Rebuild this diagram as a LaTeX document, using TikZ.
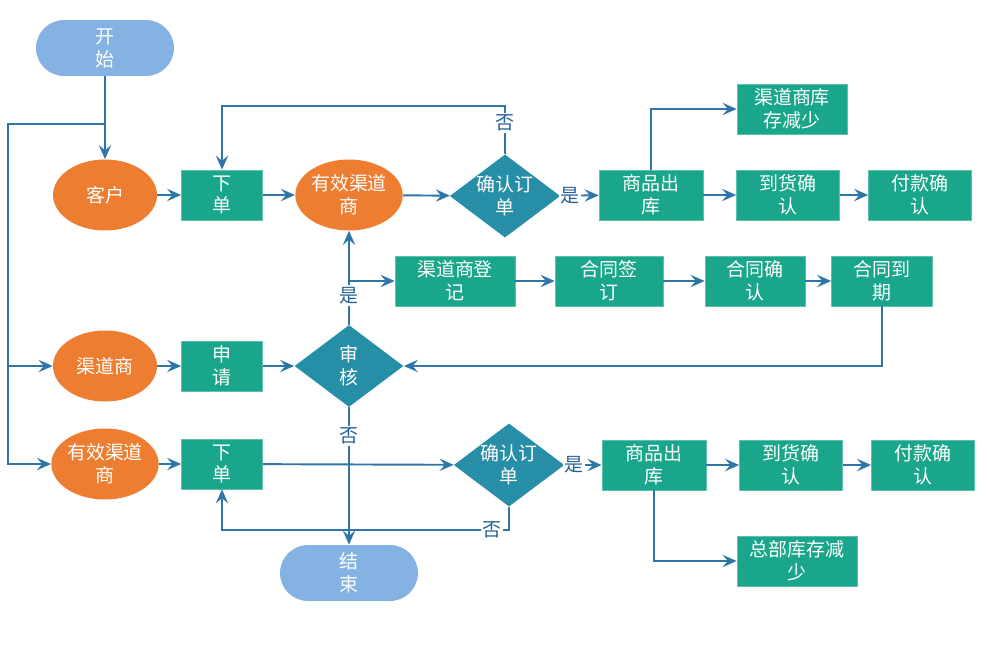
\documentclass[tikz,border=0pt]{standalone}
\usepackage{fontspec}
\setmainfont{Noto Sans CJK SC}
\usetikzlibrary{positioning, arrows.meta, calc, shapes.geometric}
\definecolor{flowline}{RGB}{46,117,168}
\definecolor{lbltext}{RGB}{36,95,150}
\definecolor{boxgreen}{RGB}{26,166,138}
\definecolor{roleorange}{RGB}{237,125,49}
\definecolor{checkteal}{RGB}{39,142,168}
\definecolor{termblue}{RGB}{132,178,226}

\begin{document}
\begin{tikzpicture}[
  x=0.02cm, y=-0.02cm,
  font=\fontsize{10.8}{13}\selectfont,
  stepbox/.style={draw=boxgreen!70!white, fill=boxgreen, text=white, minimum height=1cm,
                  align=center, inner sep=1pt},
  role/.style={ellipse, fill=roleorange, text=white, minimum width=2.08cm, minimum height=1.42cm,
               align=center, inner sep=0pt},
  check/.style={diamond, fill=checkteal, text=white, aspect=1.33, minimum width=2.18cm,
                minimum height=1.64cm, align=center, inner sep=0pt},
  term/.style={rectangle, rounded corners=0.56cm, fill=termblue, text=white, minimum width=2.76cm,
               minimum height=1.12cm, align=center},
  flow/.style={-{Stealth[length=8pt, width=7pt, inset=3pt]}, line width=1.1pt, flowline},
  lbl/.style={fill=white, text=lbltext, inner sep=1pt}
]
  \useasboundingbox (0,0) rectangle (987,660);

  % start / end
  \node[term] (start) at (105,48) {开\\始};
  \node[term] (end) at (349,573) {结\\束};

  % customer row
  \node[role] (kehu) at (105,195) {客户};
  \node[stepbox, minimum width=1.62cm] (xd1) at (222,195) {下\\单};
  \node[role] (yx1) at (349,195) {有效渠道\\商};
  \node[check] (cf1) at (505,196) {确认订\\单};
  \node[stepbox, minimum width=2.08cm] (ck1) at (651,195) {商品出\\库};
  \node[stepbox, minimum width=2.2cm] (kc1) at (792,109) {渠道商库\\存减少};
  \node[stepbox, minimum width=2.06cm] (dh1) at (788,195) {到货确\\认};
  \node[stepbox, minimum width=2.06cm] (fk1) at (920,195) {付款确\\认};

  % contract row
  \node[stepbox, minimum width=2.4cm] (dj) at (455,281) {渠道商登\\记};
  \node[stepbox, minimum width=2.16cm] (hq) at (609,281) {合同签\\订};
  \node[stepbox, minimum width=2.0cm] (hr) at (755,281) {合同确\\认};
  \node[stepbox, minimum width=2.02cm] (hd) at (882,281) {合同到\\期};

  % channel row
  \node[role] (qds) at (105,366) {渠道商};
  \node[stepbox, minimum width=1.62cm] (sq) at (222,366) {申\\请};
  \node[check] (sh) at (349,366) {审\\核};

  % valid channel row
  \node[role] (yx2) at (105,464) {有效渠道\\商};
  \node[stepbox, minimum width=1.62cm] (xd2) at (222,464) {下\\单};
  \node[check] (cf2) at (509,465) {确认订\\单};
  \node[stepbox, minimum width=2.08cm] (ck2) at (654,465) {商品出\\库};
  \node[stepbox, minimum width=2.06cm] (dh2) at (791,465) {到货确\\认};
  \node[stepbox, minimum width=2.06cm] (fk2) at (923,465) {付款确\\认};
  \node[stepbox, minimum width=2.4cm] (kc2) at (797,561) {总部库存减\\少};

  \coordinate (fork) at (105,124);
  \coordinate (bus) at (8,124);

  % connectors
  \draw[flow] (start) -- (kehu);
  \draw[flow] (fork) -- (bus) |- (yx2);
  \draw[flow] (bus) |- (qds);

  \draw[flow] (kehu) -- (xd1);
  \draw[flow] (xd1) -- (yx1);
  \draw[flow] (yx1) -- (cf1);
  \draw[flow] (cf1) -- node[lbl, pos=0.25]{是} (ck1);
  \draw[flow] (cf1.north) -- node[lbl, pos=0.65]{否} ++(0,-48) -| (xd1.north);
  \draw[flow] (ck1.north) |- (kc1);
  \draw[flow] (ck1) -- (dh1);
  \draw[flow] (dh1) -- (fk1);

  \draw[flow] (qds) -- (sq);
  \draw[flow] (sq) -- (sh);
  \draw[flow] (sh.north) -- node[lbl, pos=0.31]{是} (yx1.south);
  \draw[flow] (sh |- dj) -- (dj);
  \draw[flow] (dj) -- (hq);
  \draw[flow] (hq) -- (hr);
  \draw[flow] (hr) -- (hd);
  \draw[flow] (hd.south) |- (sh.east);
  \draw[flow] (sh.south) -- node[lbl, pos=0.21]{否} (end.north);

  \draw[flow] (yx2) -- (xd2);
  \draw[flow] (xd2) -- (cf2);
  \draw[flow] (cf2) -- node[lbl, pos=0.25]{是} (ck2);
  \draw[flow] (cf2.south) -- ++(0,23) -| node[lbl, pos=0.03]{否} (xd2.south);
  \draw[flow] (ck2.south) |- (kc2);
  \draw[flow] (ck2) -- (dh2);
  \draw[flow] (dh2) -- (fk2);
\end{tikzpicture}
\end{document}
